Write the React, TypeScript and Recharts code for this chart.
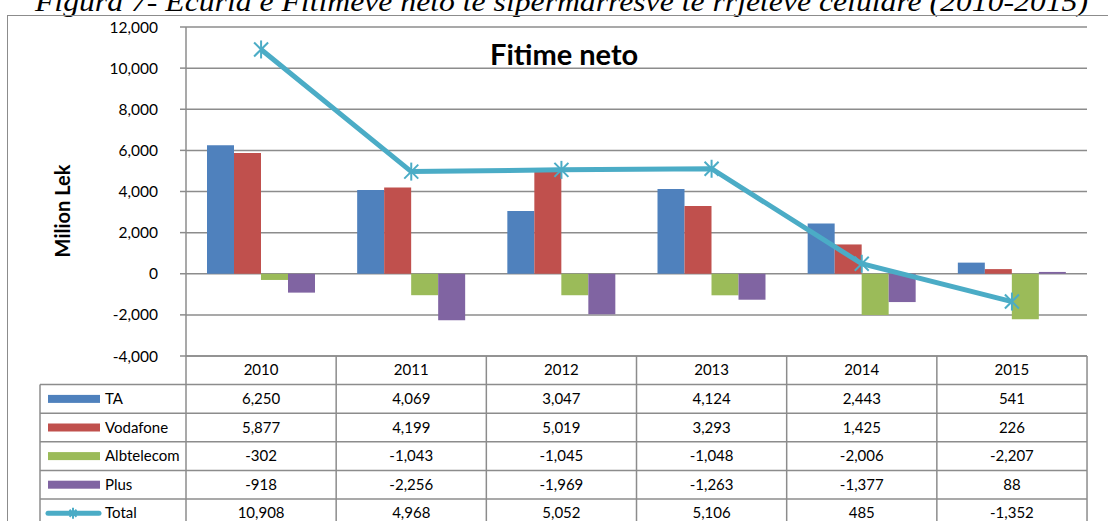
import React from "react";
import { ComposedChart, Bar, Line, XAxis, YAxis, CartesianGrid } from "recharts";

const years = ["2010", "2011", "2012", "2013", "2014", "2015"];
const ta = [6250, 4069, 3047, 4124, 2443, 541];
const vodafone = [5877, 4199, 5019, 3293, 1425, 226];
const albtelecom = [-302, -1043, -1045, -1048, -2006, -2207];
const plus = [-918, -2256, -1969, -1263, -1377, 88];
const total = [10908, 4968, 5052, 5106, 485, -1352];
const yTicks = [-4000, -2000, 0, 2000, 4000, 6000, 8000, 10000, 12000];

const data = years.map((year, i) => ({
  year,
  TA: ta[i],
  Vodafone: vodafone[i],
  Albtelecom: albtelecom[i],
  Plus: plus[i],
  Total: total[i],
}));

const series = [
  { key: "TA", color: "#4F81BD", values: ta },
  { key: "Vodafone", color: "#C0504D", values: vodafone },
  { key: "Albtelecom", color: "#9BBB59", values: albtelecom },
  { key: "Plus", color: "#8064A2", values: plus },
];
const lineColor = "#4BACC6";
const gridColor = "#8c8c8c";
const font = "Lato, 'Noto Sans', sans-serif";

const fmt = (v: number) => v.toLocaleString("en-US");

// Excel-style star marker: two diagonals plus a vertical stroke
const StarDot = (props: any) => {
  const { cx, cy, starSize = 7 } = props;
  if (cx == null || cy == null) return null;
  const s = starSize;
  return (
    <g stroke={lineColor} strokeWidth={2}>
      <line x1={cx - s} y1={cy - s} x2={cx + s} y2={cy + s} />
      <line x1={cx - s} y1={cy + s} x2={cx + s} y2={cy - s} />
      <line x1={cx} y1={cy - s - 2} x2={cx} y2={cy + s + 2} />
    </g>
  );
};

// data table under the plot, laid out on the same 6 columns as the chart
const plotLeft = 186;
const colW = 150.17;
const legendLeft = 40;
const tableTop = 356;
const rowH = 28.6;

function DataTable() {
  const rows = [...series.map((s) => ({ key: s.key, color: s.color, values: s.values, line: false })),
    { key: "Total", color: lineColor, values: total, line: true }];
  const right = plotLeft + colW * years.length;
  const bottom = 560;
  return (
    <svg width={1108} height={521} style={{ position: "absolute", left: 0, top: 0 }} fontFamily={font} fontSize={15}>
      {Array.from({ length: rows.length + 2 }).map((_, k) => (
        <line
          key={"h" + k}
          x1={k === 0 ? plotLeft : legendLeft}
          x2={right}
          y1={tableTop + k * rowH}
          y2={tableTop + k * rowH}
          stroke={gridColor}
          strokeWidth={1.5}
        />
      ))}
      <line x1={legendLeft} x2={legendLeft} y1={tableTop + rowH} y2={bottom} stroke={gridColor} strokeWidth={1.5} />
      {Array.from({ length: years.length + 1 }).map((_, j) => (
        <line
          key={"v" + j}
          x1={plotLeft + j * colW}
          x2={plotLeft + j * colW}
          y1={tableTop}
          y2={bottom}
          stroke={gridColor}
          strokeWidth={1.5}
        />
      ))}
      {years.map((y, j) => (
        <text key={y} x={plotLeft + (j + 0.5) * colW} y={tableTop + rowH / 2 + 5} textAnchor="middle" fill="#000">
          {y}
        </text>
      ))}
      {rows.map((r, i) => {
        const mid = tableTop + (i + 1.5) * rowH;
        return (
          <g key={r.key}>
            {r.line ? (
              <g>
                <line x1={48} x2={99} y1={mid} y2={mid} stroke={lineColor} strokeWidth={5} strokeLinecap="round" />
                <StarDot cx={73} cy={mid} starSize={3.5} />
              </g>
            ) : (
              <rect x={48} y={mid - 4} width={52} height={8} fill={r.color} />
            )}
            <text x={105} y={mid + 5} fill="#000">
              {r.key}
            </text>
            {r.values.map((v, j) => (
              <text key={j} x={plotLeft + (j + 0.5) * colW} y={mid + 5} textAnchor="middle" fill="#000">
                {fmt(v)}
              </text>
            ))}
          </g>
        );
      })}
    </svg>
  );
}

export default function App() {
  return (
    <div
      style={{
        position: "absolute",
        left: 0,
        top: 0,
        width: 1108,
        height: 521,
        overflow: "hidden",
        background: "#fff",
      }}
    >
      <svg width={1108} height={30} style={{ position: "absolute", left: 0, top: 0 }}>
        <text
          x={35}
          y={11}
          textLength={1053}
          lengthAdjust="spacingAndGlyphs"
          fontFamily="'Liberation Serif', 'Times New Roman', serif"
          fontStyle="italic"
          fontSize={27}
          fill="#000"
        >
          Figura 7- Ecuria e Fitimeve neto te sipermarresve te rrjeteve celulare (2010-2015)
        </text>
      </svg>
      <div
        style={{
          position: "absolute",
          left: 7,
          top: 15,
          width: 1120,
          height: 530,
          border: `1.5px solid ${gridColor}`,
        }}
      />
      <div style={{ position: "absolute", left: 0, top: 0 }}>
        <ComposedChart
          width={1108}
          height={372}
          data={data}
          margin={{ top: 27, right: 21, bottom: 16, left: 126 }}
          barGap={0}
        >
          <CartesianGrid vertical={false} stroke={gridColor} strokeWidth={1.5} />
          <XAxis dataKey="year" hide />
          <YAxis
            width={60}
            domain={[-4000, 12000]}
            ticks={yTicks}
            interval={0}
            tickFormatter={fmt}
            tick={{ fill: "#000", fontSize: 15.5, fontFamily: font }}
            tickSize={6}
            tickMargin={22}
            axisLine={{ stroke: gridColor, strokeWidth: 1.5 }}
            tickLine={{ stroke: gridColor, strokeWidth: 1.5 }}
          />
          {series.map((s) => (
            <Bar key={s.key} dataKey={s.key} fill={s.color} barSize={27} isAnimationActive={false} />
          ))}
          <Line
            type="linear"
            dataKey="Total"
            stroke={lineColor}
            strokeWidth={5}
            dot={<StarDot />}
            activeDot={false}
            isAnimationActive={false}
          />
        </ComposedChart>
      </div>
      <div
        style={{
          position: "absolute",
          left: 490,
          top: 36,
          fontFamily: font,
          fontWeight: 700,
          fontSize: 29,
          color: "#000",
          whiteSpace: "nowrap",
        }}
      >
        Fitime neto
      </div>
      <div
        style={{
          position: "absolute",
          left: 62,
          top: 211,
          transform: "translate(-50%, -50%) rotate(-90deg)",
          fontFamily: font,
          fontWeight: 700,
          fontSize: 20,
          color: "#000",
          whiteSpace: "nowrap",
        }}
      >
        Milion Lek
      </div>
      <DataTable />
    </div>
  );
}
